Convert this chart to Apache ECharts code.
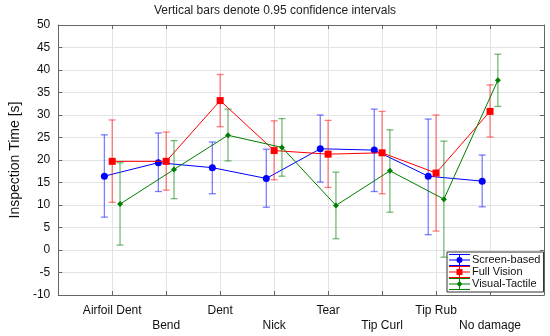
<!DOCTYPE html>
<html>
<head>
<meta charset="utf-8">
<script src="https://cdn.jsdelivr.net/npm/echarts@6/dist/echarts.min.js"></script>
<style>html,body{margin:0;padding:0;background:#fff}#c{width:550px;height:336px}</style>
</head>
<body>
<div id="c"></div>
<script>
var categories = ['Airfoil Dent','Bend','Dent','Nick','Tear','Tip Curl','Tip Rub','No damage'];
var yTicks = [-10,-5,0,5,10,15,20,25,30,35,40,45,50];

var screenMean = [16.4, 19.4, 18.3, 15.9, 22.5, 22.2, 16.4, 15.3];
var screenLow  = [7.3, 13.0, 12.5, 9.5, 15.1, 13.0, 3.4, 9.6];
var screenHigh = [25.6, 26.0, 24.0, 22.4, 30.0, 31.3, 29.1, 21.1];

var fullMean = [19.7, 19.7, 33.2, 22.1, 21.3, 21.6, 17.1, 30.8];
var fullLow  = [10.6, 13.3, 27.4, 15.6, 13.9, 12.5, 4.2, 25.1];
var fullHigh = [28.9, 26.2, 39.0, 28.7, 28.8, 30.8, 30.0, 36.7];

var tactMean = [10.2, 17.9, 25.5, 22.8, 9.9, 17.6, 11.3, 37.7];
var tactLow  = [1.1, 11.4, 19.8, 16.4, 2.5, 8.4, -1.6, 31.9];
var tactHigh = [19.4, 24.3, 31.3, 29.2, 17.3, 26.7, 24.2, 43.5];

var groups = [
  {name:'Screen-based', mean:screenMean, low:screenLow, high:screenHigh, off:-0.145,
   color:'#0000ff', bar:'rgba(40,40,255,0.6)', symbol:'circle', size:7,
   icon:'path://M0,0h21v1H0z M0,5.5h21v1H0z M0,11h21v1H0z M10,0h1v12h-1z M7.5,6a3,3 0 1,1 6,0a3,3 0 1,1 -6,0z'},
  {name:'Full Vision', mean:fullMean, low:fullLow, high:fullHigh, off:0,
   color:'#ff0000', bar:'rgba(255,40,40,0.6)', symbol:'rect', size:7,
   icon:'path://M0,0h21v1H0z M0,5.5h21v1H0z M0,11h21v1H0z M10,0h1v12h-1z M7.5,3h6v6h-6z'},
  {name:'Visual-Tactile', mean:tactMean, low:tactLow, high:tactHigh, off:0.145,
   color:'#008000', bar:'rgba(30,140,30,0.6)', symbol:'diamond', size:6,
   icon:'path://M0,0h21v1H0z M0,5.5h21v1H0z M0,11h21v1H0z M10,0h1v12h-1z M10.5,3L13.5,6L10.5,9L7.5,6z'}
];

var series = [];
groups.forEach(function(g, gi){
  var bars = categories.map(function(c, i){ return [i + 1 + g.off, g.low[i], g.high[i]]; });
  series.push({
    name: g.name, type: 'custom', z: 2 + gi*2,
    encode: {x: 0, y: [1, 2]},
    data: bars,
    itemStyle: {color: g.color},
    renderItem: (function(col){ return function(params, api){
      var x = api.value(0);
      var pTop = api.coord([x, api.value(2)]);
      var pBot = api.coord([x, api.value(1)]);
      var h = 3.5;
      var st = {stroke: col, lineWidth: 1.3, fill: null};
      return {type:'group', children:[
        {type:'line', shape:{x1:pTop[0], y1:pTop[1], x2:pBot[0], y2:pBot[1]}, style:st},
        {type:'line', shape:{x1:pTop[0]-h, y1:pTop[1], x2:pTop[0]+h, y2:pTop[1]}, style:st},
        {type:'line', shape:{x1:pBot[0]-h, y1:pBot[1], x2:pBot[0]+h, y2:pBot[1]}, style:st}
      ]};
    };})(g.bar)
  });
  series.push({
    name: g.name, type: 'line', z: 3 + gi*2,
    data: categories.map(function(c, i){ return [i + 1 + g.off, g.mean[i]]; }),
    symbol: g.symbol, symbolSize: g.size, showSymbol: true,
    itemStyle: {color: g.color, borderWidth: 0},
    lineStyle: {color: g.color, width: 1},
    emphasis: {disabled: true}
  });
});

var gridColor = '#e3e3e3';
var axisColor = '#666';
var option = {
  animation: false,
  backgroundColor: '#fff',
  title: {
    text: 'Vertical bars denote 0.95 confidence intervals',
    left: 'center', top: 0,
    textStyle: {fontFamily: 'Liberation Sans', fontSize: 12, fontWeight: 'normal', color: '#222'}
  },
  legend: {
    orient: 'vertical', left: 447, top: 252,
    itemWidth: 21, itemHeight: 12, itemGap: 0,
    padding: [2, 3, 2, 2],
    backgroundColor: '#fff', borderColor: '#333', borderWidth: 1,
    itemStyle: {borderWidth: 0},
    textStyle: {fontFamily: 'Liberation Sans', fontSize: 11, color: '#111', padding: [0,0,0,-3]},
    data: groups.map(function(g){ return {name: g.name, icon: g.icon}; })
  },
  grid: {left: 47, right: 6, top: 25, bottom: 41, containLabel: false},
  xAxis: [{
    type: 'value', min: 0, max: 9, interval: 1, position: 'bottom',
    axisLine: {show: true, onZero: false, lineStyle: {color: axisColor, width: 1}},
    axisTick: {show: true, inside: true, length: 4, lineStyle: {color: axisColor}},
    splitLine: {show: true, lineStyle: {color: gridColor, width: 1}},
    axisLabel: {
      margin: 8, fontFamily: 'Liberation Sans', fontSize: 12, color: '#111', lineHeight: 15,
      formatter: function(v){
        var i = Math.round(v);
        if (i < 1 || i > categories.length) return '';
        return (i % 2 === 0 ? '\n' : '') + categories[i - 1];
      }
    }
  }, {
    type: 'value', min: 0, max: 9, interval: 1, position: 'top',
    axisLine: {show: true, onZero: false, lineStyle: {color: axisColor, width: 1}},
    axisTick: {show: true, inside: true, length: 4, lineStyle: {color: axisColor}},
    splitLine: {show: false}, axisLabel: {show: false}
  }],
  yAxis: [{
    type: 'value', min: yTicks[0], max: yTicks[yTicks.length-1], interval: 5, position: 'left',
    name: 'Inspection Time [s]', nameLocation: 'middle', nameGap: 31,
    nameTextStyle: {fontFamily: 'Liberation Sans', fontSize: 14, color: '#111'},
    axisLine: {show: true, onZero: false, lineStyle: {color: axisColor, width: 1}},
    axisTick: {show: true, inside: true, length: 4, lineStyle: {color: axisColor}},
    splitLine: {show: true, lineStyle: {color: gridColor, width: 1}},
    axisLabel: {margin: 8, fontFamily: 'Liberation Sans', fontSize: 12, color: '#111'}
  }, {
    type: 'value', min: yTicks[0], max: yTicks[yTicks.length-1], interval: 5, position: 'right',
    axisLine: {show: true, onZero: false, lineStyle: {color: axisColor, width: 1}},
    axisTick: {show: true, inside: true, length: 4, lineStyle: {color: axisColor}},
    splitLine: {show: false}, axisLabel: {show: false}
  }],
  series: series
};
var chart = echarts.init(document.getElementById('c'), null, {renderer: 'canvas'});
chart.setOption(option);
</script>
</body>
</html>
